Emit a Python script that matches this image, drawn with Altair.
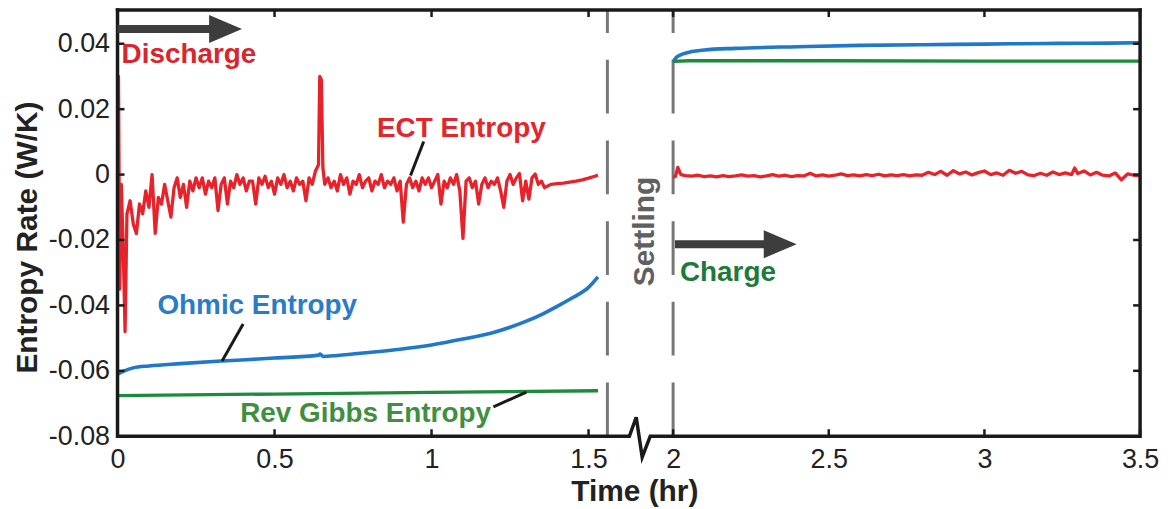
import altair as alt
import pandas as pd

# ---------------- data ----------------
# time (hr), ECT entropy rate (mW/K) during discharge
ECT_DISCHARGE = [
    (0.000, -2), (0.003, 30), (0.007, -35), (0.012, -3), (0.018, -22), (0.024, -48), (0.030, -12),
    (0.04, -8), (0.05, -15), (0.06, -18), (0.07, -9), (0.08, -12), (0.09, -5), (0.10, -10),
    (0.11, 0), (0.12, -18), (0.13, -7), (0.14, -9), (0.15, -3), (0.16, -8), (0.17, -13),
    (0.18, -4), (0.19, -1), (0.20, -7), (0.21, -3), (0.22, -10), (0.23, -2), (0.24, -5),
    (0.25, -1), (0.26, -4), (0.27, -1), (0.28, -6), (0.29, -2), (0.30, -4), (0.31, -1),
    (0.32, -11), (0.33, -3), (0.34, -1), (0.35, -9), (0.36, -2), (0.37, -4), (0.38, 0),
    (0.39, -3), (0.40, -1), (0.41, -5), (0.42, -2), (0.43, -2), (0.44, -9), (0.45, -1),
    (0.46, -3), (0.47, -0.5), (0.48, -4), (0.49, -2), (0.50, -6), (0.51, -1), (0.52, -3),
    (0.53, 0), (0.54, -4), (0.55, -2), (0.56, -5), (0.57, -1), (0.58, -3), (0.59, -2),
    (0.60, -8), (0.61, -1), (0.62, -3), (0.63, 1), (0.640, 3), (0.644, 30), (0.649, 29),
    (0.654, 2), (0.66, -3), (0.67, -1), (0.68, -4), (0.69, -2), (0.70, -5), (0.71, 0),
    (0.72, -3), (0.73, -1), (0.74, -6), (0.75, -2), (0.76, -3), (0.77, 0), (0.78, -4),
    (0.79, -2), (0.80, -1), (0.81, -5), (0.82, -2), (0.83, -3), (0.84, 0), (0.85, -4),
    (0.86, -2), (0.87, -3), (0.88, -1), (0.89, -5), (0.90, -2), (0.91, -14.5), (0.92, -3),
    (0.93, -1), (0.94, -4), (0.95, -2), (0.96, -5), (0.97, -1), (0.98, -3), (0.99, -1),
    (1.00, -4), (1.01, -2), (1.02, 0), (1.03, -9), (1.04, -2), (1.05, -4), (1.06, -1),
    (1.07, -3), (1.08, 0), (1.09, -5), (1.10, -19.5), (1.11, -2), (1.12, -1), (1.13, -4),
    (1.14, -2), (1.15, -9), (1.16, -3), (1.17, -1), (1.18, -4), (1.19, -2), (1.20, -3),
    (1.21, -1), (1.22, -5), (1.23, -10), (1.24, -2), (1.25, 0), (1.26, -3), (1.27, -1),
    (1.28, 0.3), (1.29, -8), (1.30, -2), (1.31, -7.5), (1.32, -1), (1.33, 0.2), (1.34, -3),
    (1.35, -2), (1.36, -4), (1.38, -3), (1.40, -2.8), (1.42, -2.6), (1.44, -2.3),
    (1.46, -2.0), (1.48, -1.6), (1.50, -1.1), (1.52, -0.5), (1.53, -0.1),
]
# time (hr), ECT entropy rate (mW/K) during charge
ECT_CHARGE = [
    (2.000, -0.8), (2.008, -0.5), (2.015, 2.2), (2.025, 0.0), (2.04, -0.3), (2.06, -0.5),
    (2.08, -0.2), (2.10, -0.6), (2.12, -0.4), (2.14, -0.7), (2.16, -0.3), (2.18, -0.6),
    (2.20, -0.4), (2.22, -0.1), (2.24, -0.5), (2.26, -0.3), (2.28, -0.7), (2.30, -0.4),
    (2.32, 0.0), (2.34, -0.5), (2.36, -0.2), (2.38, -0.6), (2.40, -0.3), (2.42, -0.4),
    (2.44, 0.4), (2.46, -0.4), (2.48, -0.1), (2.50, -0.5), (2.52, -0.2), (2.54, 0.2),
    (2.56, -0.3), (2.58, -0.1), (2.60, -0.4), (2.62, 0.0), (2.64, -0.3), (2.66, 0.1),
    (2.68, -0.4), (2.70, -0.1), (2.72, -0.3), (2.74, 0.0), (2.76, -0.4), (2.78, -0.1),
    (2.80, -0.2), (2.82, 0.7), (2.84, 0.0), (2.86, 1.0), (2.88, -0.2), (2.90, 1.2),
    (2.92, 0.2), (2.94, 0.8), (2.96, -0.1), (2.98, 0.6), (3.00, 1.1), (3.02, 0.0),
    (3.04, 0.5), (3.06, -0.2), (3.08, 1.3), (3.10, 0.4), (3.12, 1.0), (3.14, -0.1),
    (3.16, -0.3), (3.18, 0.4), (3.20, -0.2), (3.22, 0.8), (3.24, 0.0), (3.26, 0.5),
    (3.28, 0.0), (3.29, 2.0), (3.30, 0.3), (3.32, 1.1), (3.34, -0.1), (3.36, 0.7),
    (3.38, -0.2), (3.40, -0.4), (3.42, 0.5), (3.44, -1.6), (3.46, 0.2), (3.48, -0.2),
    (3.50, -0.3),
]
OHM_DIS_T = [0, 0.02, 0.05, 0.1, 0.2, 0.333, 0.5, 0.64, 0.645, 0.655, 0.7, 0.8, 0.9,
             1.0, 1.1, 1.2, 1.25, 1.3, 1.35, 1.4, 1.45, 1.5, 1.53]
OHM_DIS_V = [-0.0610, -0.0601, -0.0591, -0.0585, -0.0578, -0.0570, -0.0561, -0.0552,
             -0.0549, -0.0556, -0.0553, -0.0544, -0.0534, -0.0521, -0.0503, -0.0482,
             -0.0467, -0.0449, -0.0428, -0.0403, -0.0376, -0.0345, -0.0313]
OHM_CHG_T = [2.0, 2.01, 2.03, 2.06, 2.1, 2.2, 2.4, 2.6, 2.8, 3.0, 3.2, 3.4, 3.5]
OHM_CHG_V = [0.0345, 0.0358, 0.0368, 0.0376, 0.0381, 0.0386, 0.0391, 0.0395, 0.0397,
             0.0399, 0.0401, 0.0402, 0.0403]
GIB_DIS_T = [0, 0.5, 1.0, 1.53]
GIB_DIS_V = [-0.0676, -0.0671, -0.0666, -0.0661]
GIB_CHG_T = [2.0, 2.05, 2.5, 3.0, 3.5]
GIB_CHG_V = [0.0346, 0.0348, 0.0348, 0.0347, 0.0347]

X_TICKS = [0, 0.5, 1, 1.5, 2, 2.5, 3, 3.5]
Y_TICKS = [-0.08, -0.06, -0.04, -0.02, 0, 0.02, 0.04]
SETTLE_LINES = [1.56, 2.0]
# broken-axis zigzag on the time axis
BREAK_T = [0, 1.707, 1.753, 1.793, 1.847, 3.5]
BREAK_V = [-0.08, -0.08, -0.0742, -0.0864, -0.08, -0.08]

LABELS_LEFT = [("Discharge", 0.013, 0.0341, "#d8262e"), ("Charge", 2.022, -0.0326, "#1d7a3a")]
LABELS_CENTER = [("ECT Entropy", 1.095, 0.0116, "#e2262b"),
                 ("Ohmic Entropy", 0.445, -0.0427, "#2a7cc6"),
                 ("Rev Gibbs Entropy", 0.790, -0.0756, "#3f8f3f")]
SETTLING = ("Settling", 1.813, -0.0174)
POINTERS = [(0.975, 0.0101, 0.933, -0.0003), (0.400, -0.0457, 0.333, -0.0570),
            (1.197, -0.0710, 1.302, -0.0665)]
ARROWS = [(0.0, 0.31, 0.344, 0.0445), (2.006, 2.30, 2.344, -0.0213)]  # shaft start, end, head, level

# ---------------- styling ----------------
W, H = 1027, 428
FONT = "Liberation Sans"
RED, BLUE, GREEN = "#e8222a", "#1f78c8", "#1e8a3c"
INK = "#1a1a1a"

xs = alt.Scale(domain=[0, 1.56, 2.0, 3.5], range=[0, 492, 558, W], nice=False, zero=False)
ys = alt.Scale(domain=[-0.08, 0.0503], nice=False, zero=False)

xaxis = alt.Axis(values=X_TICKS, labelExpr="'' + datum.value", ticks=False, tickSize=0,
                 domain=False, grid=False, labelFlush=False, labelFontSize=27,
                 labelColor="#222222", labelPadding=31, labelBaseline="alphabetic",
                 title="Time (hr)", titleFontSize=30, titleFontWeight="bold",
                 titleColor="#222222", titleX=519, titleY=65, titleBaseline="alphabetic",
                 titleAlign="center")
yaxis = alt.Axis(values=Y_TICKS,
                 labelExpr="datum.value == 0 ? '0' : (datum.value < 0 ? '-' : '') + format(abs(datum.value), '.2f')",
                 ticks=False, tickSize=0, domain=False, grid=False, labelFontSize=27,
                 labelColor="#222222", labelPadding=8, title="Entropy Rate (W/K)",
                 titleFontSize=30, titleFontWeight="bold", titleColor="#222222",
                 titleX=-90, titleY=228, titleAngle=270, titleAlign="center",
                 titleBaseline="middle")


def X(f="t"):
    return alt.X(f"{f}:Q", scale=xs, axis=xaxis)


def Y(f="v"):
    return alt.Y(f"{f}:Q", scale=ys, axis=yaxis)


dummy = alt.Data(values=[{"a": 1}])

# series frames
ect = pd.DataFrame(
    [{"t": t, "v": m / 1000.0, "seg": "dis"} for t, m in ECT_DISCHARGE]
    + [{"t": t, "v": m / 1000.0, "seg": "chg"} for t, m in ECT_CHARGE])
ohm = pd.DataFrame(
    [{"t": t, "v": v, "seg": "dis"} for t, v in zip(OHM_DIS_T, OHM_DIS_V)]
    + [{"t": t, "v": v, "seg": "chg"} for t, v in zip(OHM_CHG_T, OHM_CHG_V)])
gib = pd.DataFrame(
    [{"t": t, "v": v, "seg": "dis"} for t, v in zip(GIB_DIS_T, GIB_DIS_V)]
    + [{"t": t, "v": v, "seg": "chg"} for t, v in zip(GIB_CHG_T, GIB_CHG_V)])

layers = []

# dashed settling boundaries
layers.append(alt.Chart(pd.DataFrame({"t": SETTLE_LINES})).mark_rule(
    color="#777777", strokeWidth=3, strokeDash=[54, 27]).encode(
    x=X(), y=alt.value(H), y2=alt.value(0)))

# data lines
layers.append(alt.Chart(ohm).mark_line(color=BLUE, strokeWidth=3.6, interpolate="monotone").encode(
    x=X(), y=Y(), detail="seg:N"))
layers.append(alt.Chart(gib).mark_line(color=GREEN, strokeWidth=3.3).encode(
    x=X(), y=Y(), detail="seg:N"))
layers.append(alt.Chart(ect).mark_line(color=RED, strokeWidth=3.3, strokeJoin="round").encode(
    x=X(), y=Y(), detail="seg:N"))

# frame (top, left, right) and broken bottom axis
layers.append(alt.Chart(dummy).mark_rule(color=INK, strokeWidth=3.5, strokeCap="square").encode(
    x=alt.value(0), x2=alt.value(W), y=alt.value(0)))
layers.append(alt.Chart(dummy).mark_rule(color=INK, strokeWidth=3.5, strokeCap="square").encode(
    x=alt.value(0), y=alt.value(0), y2=alt.value(H)))
layers.append(alt.Chart(dummy).mark_rule(color=INK, strokeWidth=3.5, strokeCap="square").encode(
    x=alt.value(W), y=alt.value(0), y2=alt.value(H)))
layers.append(alt.Chart(pd.DataFrame({"t": BREAK_T, "v": BREAK_V})).mark_line(
    color=INK, strokeWidth=3.5, strokeJoin="miter", clip=False).encode(x=X(), y=Y()))

# inward ticks
xt = pd.DataFrame({"t": X_TICKS})
yt = pd.DataFrame({"v": Y_TICKS})
tick = dict(color=INK, strokeWidth=2.5)
layers.append(alt.Chart(xt).mark_rule(**tick).encode(x=X(), y=alt.value(H), y2=alt.value(H - 7)))
layers.append(alt.Chart(xt).mark_rule(**tick).encode(x=X(), y=alt.value(0), y2=alt.value(7)))
layers.append(alt.Chart(yt).mark_rule(**tick).encode(y=Y(), x=alt.value(0), x2=alt.value(7)))
layers.append(alt.Chart(yt).mark_rule(**tick).encode(y=Y(), x=alt.value(W), x2=alt.value(W - 7)))

# pointer lines
pdf = pd.DataFrame(POINTERS, columns=["t", "v", "t2", "v2"])
layers.append(alt.Chart(pdf).mark_rule(color=INK, strokeWidth=3).encode(
    x=X(), y=Y(), x2="t2:Q", y2="v2:Q"))

# arrows
adf = pd.DataFrame(ARROWS, columns=["t", "t2", "th", "v"])
layers.append(alt.Chart(adf).mark_rule(color="#3d3d3d", strokeWidth=8).encode(
    x=X(), x2="t2:Q", y=Y()))
layers.append(alt.Chart(adf).mark_point(
    shape="M-1,-0.85L1,0L-1,0.85Z", size=1089, filled=True, color="#3d3d3d",
    opacity=1, strokeWidth=0).encode(x=X("th"), y=Y()))

# texts
for label, t, v, col in LABELS_LEFT:
    layers.append(alt.Chart(pd.DataFrame({"t": [t], "v": [v], "s": [label]})).mark_text(
        align="left", baseline="alphabetic", font=FONT, fontSize=28, fontWeight="bold",
        color=col).encode(x=X(), y=Y(), text="s:N"))
for label, t, v, col in LABELS_CENTER:
    layers.append(alt.Chart(pd.DataFrame({"t": [t], "v": [v], "s": [label]})).mark_text(
        align="center", baseline="alphabetic", font=FONT, fontSize=28, fontWeight="bold",
        color=col).encode(x=X(), y=Y(), text="s:N"))
layers.append(alt.Chart(pd.DataFrame({"t": [SETTLING[1]], "v": [SETTLING[2]], "s": [SETTLING[0]]})).mark_text(
    align="center", baseline="middle", angle=270, font=FONT, fontSize=30, fontWeight="bold",
    color="#606060").encode(x=X(), y=Y(), text="s:N"))

chart = alt.layer(*layers).properties(
    width=W, height=H,
    padding={"left": 110, "top": 1, "right": 20, "bottom": 70},
    autosize=alt.AutoSizeParams(type="none"),
).configure(font=FONT).configure_view(strokeWidth=0).configure_axis(
    labelFont=FONT, titleFont=FONT)

chart.save("out.html", embed_options={"renderer": "svg", "actions": False})
